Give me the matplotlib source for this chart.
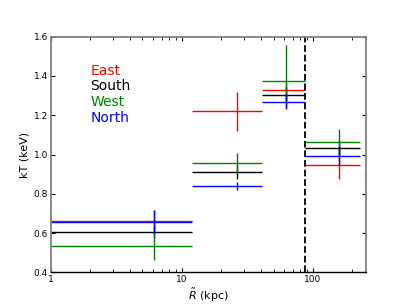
import numpy as np
import matplotlib
matplotlib.use('Agg')
import matplotlib.pyplot as plt
from matplotlib.ticker import FuncFormatter, LogLocator, FixedLocator

# radial bins (kpc): inner edge, centre, outer edge
r_lo = [1.0, 12.0, 40.5, 87.0]
r_c = [6.1, 26.4, 62.7, 157.0]
r_hi = [12.0, 40.5, 87.0, 227.0]

# temperatures (keV) and errors per sector
east_kT = [0.660, 1.220, 1.331, 0.949]
east_err = [0.060, 0.100, 0.040, 0.072]

south_kT = [0.607, 0.910, 1.302, 1.034]
south_err = [0.030, 0.035, 0.040, 0.040]

west_kT = [0.532, 0.956, 1.377, 1.066]
west_err_lo = [0.067, 0.050, 0.140, 0.066]
west_err_hi = [0.067, 0.052, 0.180, 0.066]

north_kT = [0.657, 0.840, 1.270, 0.995]
north_err = [0.058, 0.022, 0.037, 0.048]

r_cut = 87.5

r_c = np.array(r_c)
r_xerr = [r_c - np.array(r_lo), np.array(r_hi) - r_c]

fig = plt.figure(figsize=(4.07, 3.06), dpi=100)
ax = fig.add_subplot(111)

ax.errorbar(r_c, east_kT, xerr=r_xerr, yerr=east_err, fmt='none', ecolor='red', elinewidth=1.0, capsize=0)
ax.errorbar(r_c, south_kT, xerr=r_xerr, yerr=south_err, fmt='none', ecolor='black', elinewidth=1.0, capsize=0)
ax.errorbar(r_c, west_kT, xerr=r_xerr, yerr=[west_err_lo, west_err_hi], fmt='none', ecolor='green', elinewidth=1.0, capsize=0)
ax.errorbar(r_c, north_kT, xerr=r_xerr, yerr=north_err, fmt='none', ecolor='blue', elinewidth=1.0, capsize=0)

ax.axvline(r_cut, color='black', linestyle='--', linewidth=1.3)

ax.set_xscale('log')
ax.set_xlim(1, 255)
ax.set_ylim(0.4, 1.6)
ax.yaxis.set_major_locator(FixedLocator([0.4, 0.6, 0.8, 1.0, 1.2, 1.4, 1.6]))
ax.yaxis.set_major_formatter(FuncFormatter(lambda v, p: '%.1f' % v))
ax.xaxis.set_major_locator(LogLocator(base=10))
ax.xaxis.set_major_formatter(FuncFormatter(lambda v, p: '%d' % v))

ax.tick_params(which='both', direction='in', top=True, right=True, labelsize=6.5, pad=2)
ax.tick_params(which='major', length=3, width=0.8)
ax.tick_params(which='minor', length=2, width=0.6)

for s in ['left', 'top', 'right']:
    ax.spines[s].set_color('#808080')
    ax.spines[s].set_linewidth(1.3)
ax.spines['bottom'].set_color('black')
ax.spines['bottom'].set_linewidth(1.0)

ax.set_xlabel(r'$\tilde{R}$ (kpc)', fontsize=8, labelpad=2)
ax.set_ylabel('kT (keV)', fontsize=8, labelpad=3)

# sector labels
ax.text(0.126, 0.854, 'East', color='red', fontsize=10, transform=ax.transAxes, va='center')
ax.text(0.126, 0.789, 'South', color='black', fontsize=10, transform=ax.transAxes, va='center')
ax.text(0.126, 0.723, 'West', color='green', fontsize=10, transform=ax.transAxes, va='center')
ax.text(0.126, 0.657, 'North', color='blue', fontsize=10, transform=ax.transAxes, va='center')

plt.savefig('out.png', dpi=100)
plt.close()
